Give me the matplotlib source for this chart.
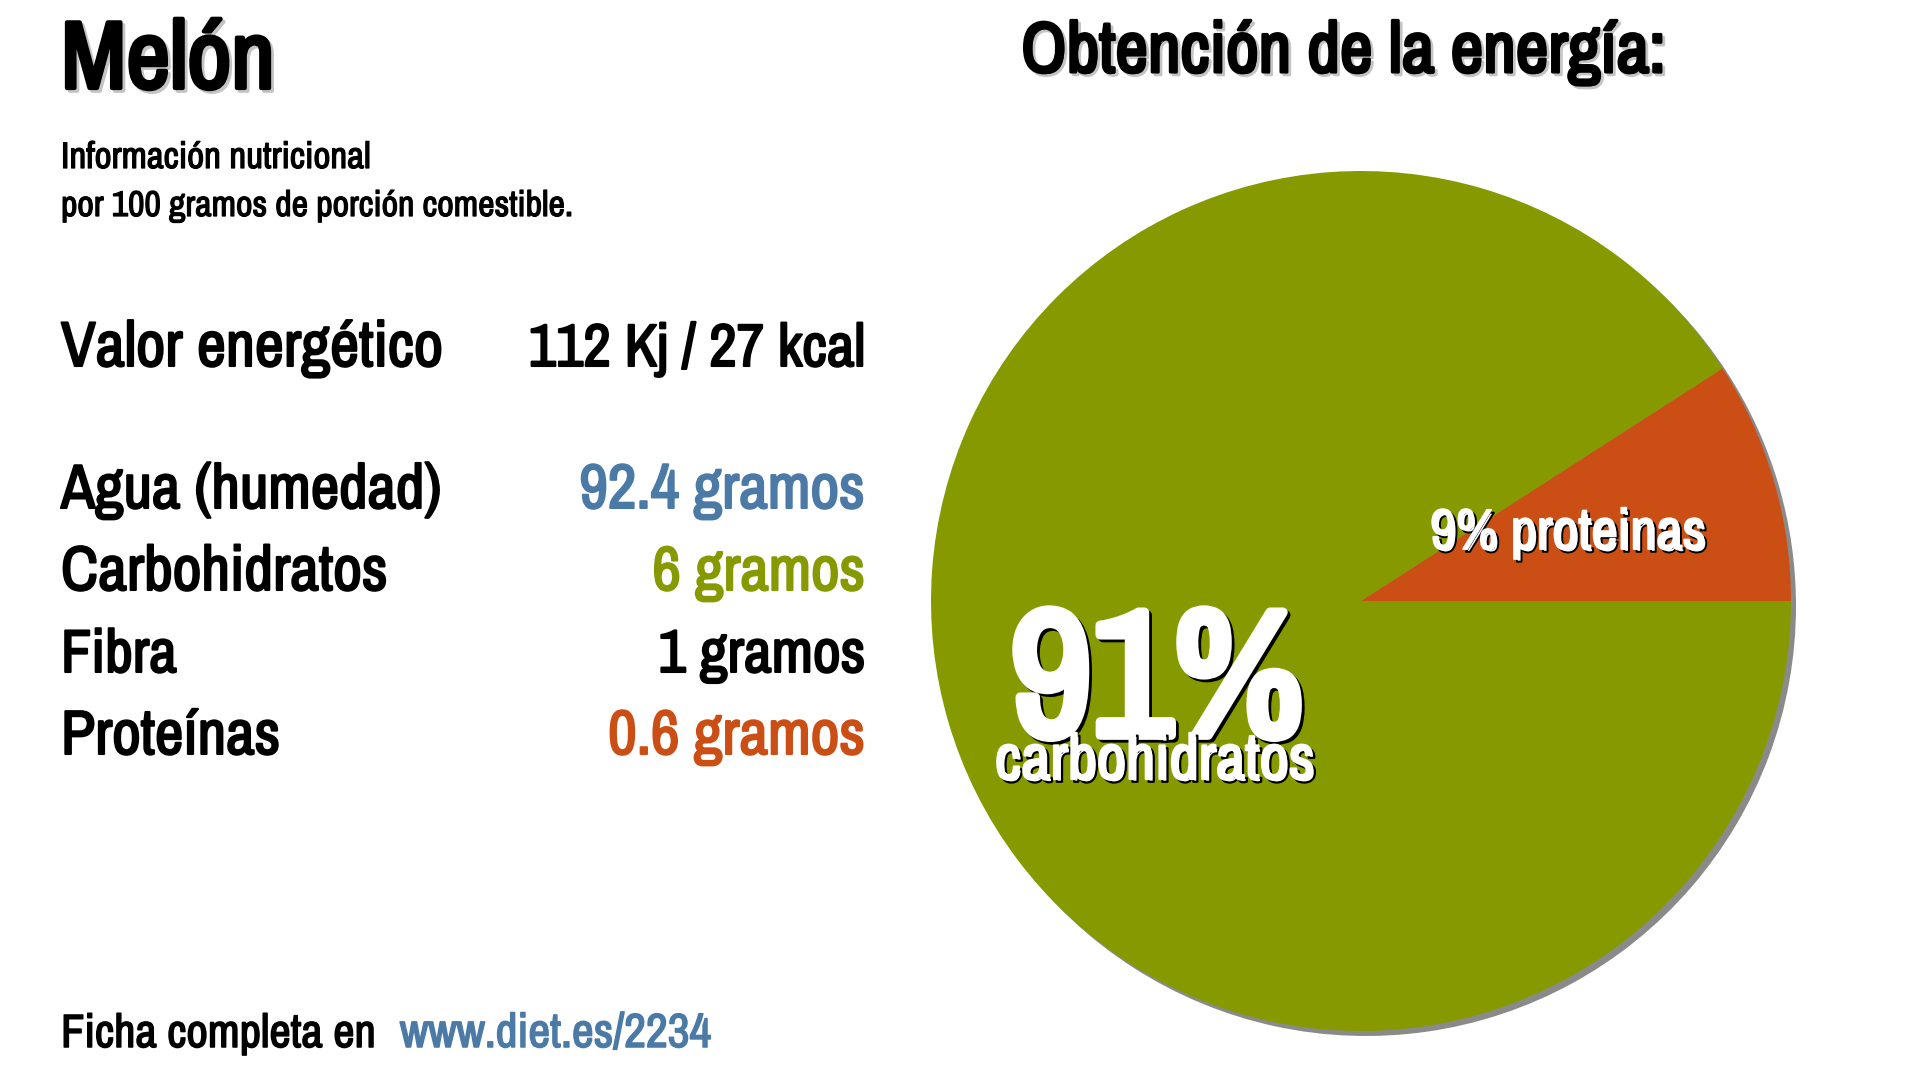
import matplotlib
matplotlib.use('Agg')
import matplotlib.pyplot as plt
import matplotlib.patheffects as pe
from matplotlib import font_manager as fm

# condensed fonts first, whichever is there
installed = {f.name for f in fm.fontManager.ttflist}
wanted = ['Archivo Narrow', 'Oswald', 'Fjalla One', 'Roboto Condensed', 'Pragati Narrow', 'Liberation Sans Narrow', 'Liberation Sans']
FONT = [n for n in wanted if n in installed][:1] + ['DejaVu Sans']
plt.rcParams['font.family'] = FONT
plt.rcParams['font.weight'] = 'bold'

food = 'Melón'
subtitle = ['Información nutricional', 'por 100 gramos de porción comestible.']
pie_title = 'Obtención de la energía:'
energy_label = 'Valor energético'
energy_value = '112 Kj / 27 kcal'
row_labels = ['Agua (humedad)', 'Carbohidratos', 'Fibra', 'Proteínas']
row_values = ['92.4 gramos', '6 gramos', '1 gramos', '0.6 gramos']
pie_shares = [9.1, 90.9]
pie_names = ['proteinas', 'carbohidratos']

BLUE = '#4b7aa6'
OLIVE = '#869a00'
ORANGE = '#cb4f15'
row_colors = [BLUE, OLIVE, 'black', ORANGE]

W, H = 1920, 1080
fig = plt.figure(figsize=(W / 100, H / 100), dpi=100, facecolor='white')

pax = fig.add_axes([0, 0, 1, 1], zorder=1)
cx, cy, r = 1361, 601, 430
# y axis gets flipped below, so counterclock=False reads counterclockwise on screen
pax.pie(pie_shares, colors=['#8a8a8a', '#8a8a8a'], center=(cx + 5, cy + 5), radius=r,
        startangle=0, counterclock=False, frame=False)
pax.pie(pie_shares, colors=[ORANGE, OLIVE], center=(cx, cy), radius=r,
        startangle=0, counterclock=False, frame=False)
pax.set_aspect('auto')
pax.set_xlim(0, W)
pax.set_ylim(H, 0)
pax.axis('off')

ax = fig.add_axes([0, 0, 1, 1], zorder=2)
ax.set_xlim(0, W)
ax.set_ylim(H, 0)
ax.axis('off')
renderer = fig.canvas.get_renderer()


def put(x, y, s, width, color='black', ha='left', fat=1.5, shadow=None):
    t = ax.text(x, y, s, fontsize=30, color=color, ha=ha, va='baseline')
    # scale the size so the text takes the same width as in the reference
    t.set_fontsize(30 * width / t.get_window_extent(renderer).width)
    effects = []
    if shadow is not None:
        effects.append(pe.Stroke(linewidth=fat, foreground=shadow[1], offset=(shadow[0], -shadow[0])))
    effects.append(pe.Stroke(linewidth=fat, foreground=color))
    effects.append(pe.Normal())
    t.set_path_effects(effects)
    return t


put(61, 88, food, 214, fat=3, shadow=(2, '#c4c4c4'))
put(61, 168, subtitle[0], 310, fat=0.9)
put(61, 216, subtitle[1], 512, fat=0.9)
put(1021, 72, pie_title, 644, fat=2.2, shadow=(2, '#c4c4c4'))

put(61, 366, energy_label, 382)
put(865, 366, energy_value, 337, ha='right')
row_y = [508, 590, 672, 754]
label_w = [380, 327, 116, 219]
value_w = [285, 212, 207, 256]
for y, lab, val, col, lw, vw in zip(row_y, row_labels, row_values, row_colors, label_w, value_w):
    put(61, y, lab, lw)
    put(865, y, val, vw, color=col, ha='right')

put(61, 1047, 'Ficha completa en', 315, fat=1.1)
put(400, 1047, 'www.diet.es/2234', 311, color=BLUE, fat=1.1)

put(1010, 735, f'{round(pie_shares[1])}%', 294, color='white', fat=7, shadow=(2, 'black'))
put(995, 779, pie_names[1], 320, color='white', fat=1.6, shadow=(2, 'black'))
put(1430, 549, f'{round(pie_shares[0])}% {pie_names[0]}', 276, color='white', fat=1.4, shadow=(2, 'black'))

fig.savefig('out.png', dpi=100)
